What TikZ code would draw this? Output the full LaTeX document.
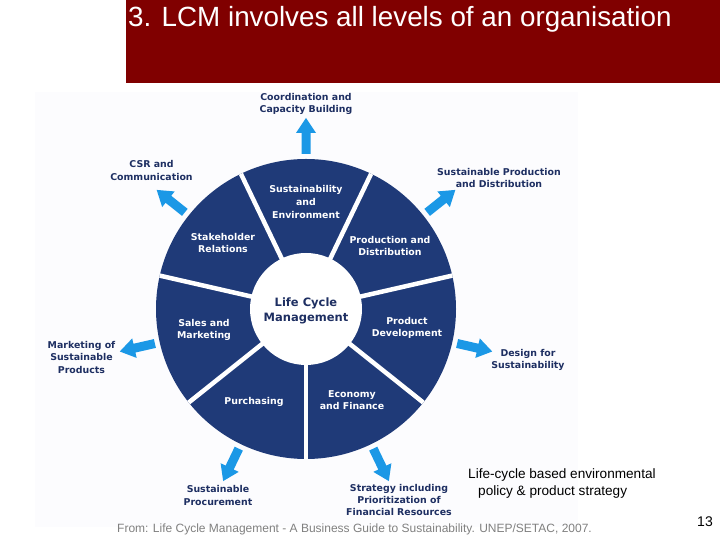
\documentclass[tikz,border=0pt]{standalone}
\usepackage{fontspec}
\setmainfont{Liberation Sans}
\newfontfamily\vfont{DejaVu Sans}
\definecolor{titlered}{HTML}{800000}
\definecolor{segnavy}{HTML}{1F3A78}
\definecolor{txtnavy}{HTML}{1E2F62}
\definecolor{arrblue}{HTML}{1B98E6}
\definecolor{bgfaint}{HTML}{FCFCFE}
\definecolor{srcgrey}{HTML}{808080}
\begin{document}
\begin{tikzpicture}[x=1pt,y=1pt,
  seglab/.style={text=white, font=\vfont\bfseries\fontsize{9.4}{12.6}\selectfont, align=center, inner sep=0pt},
  outlab/.style={text=txtnavy, font=\vfont\bfseries\fontsize{9.4}{12.4}\selectfont, align=center, inner sep=0pt},
  centlab/.style={text=txtnavy, font=\vfont\bfseries\fontsize{11.5}{15.5}\selectfont, align=center, inner sep=0pt},
  titletext/.style={text=white, font=\fontsize{27.8}{30}\selectfont, inner sep=0pt, anchor=base west},
  gapline/.style={white, line width=4.5pt},
  blockarrow/.style={fill=arrblue}
]
\useasboundingbox (0,0) rectangle (720,540);
\fill[white] (0,0) rectangle (720,540);
\fill[bgfaint] (35,13) rectangle (578,448);
\fill[titlered] (126,457) rectangle (720,540);
\node[titletext] (title) at (128,513) {3. LCM involves all levels of an organisation};

% wheel
\coordinate (c) at (306,231);
\fill[segnavy] (c) circle (150);
\begin{scope}
  \clip (c) circle (150);
  \foreach \a in {64.29,12.86,-38.57,-90,-141.43,167.14,115.71}
    \draw[gapline] (c) -- ++(\a:160);
\end{scope}
\fill[white] (c) circle (56);

% arrows
\foreach \a in {90,38.57,-12.86,-64.29,-115.71,192.86,141.43}
  \fill[blockarrow, shift={(c)}, rotate=\a]
    (155,-4.5) -- (176,-4.5) -- (176,-10) -- (191,0) -- (176,10) -- (176,4.5) -- (155,4.5) -- cycle;

% segment labels
\node[seglab] (sustain) at (306,338) {Sustainability\\and\\Environment};
\node[seglab] (prod) at (390,294) {Production and\\Distribution};
\node[seglab] (pdev) at (407,212) {Product\\Development};
\node[seglab] (econ) at (352,140) {Economy\\and Finance};
\node[seglab] (purch) at (254,138) {Purchasing};
\node[seglab] (sales) at (204,210) {Sales and\\Marketing};
\node[seglab] (stake) at (223,297) {Stakeholder\\Relations};
\node[centlab] (lcm) at (306,229) {Life Cycle\\Management};

% outer labels
\node[outlab] (coord) at (306,436) {Coordination and\\Capacity Building};
\node[outlab] (csr) at (151.5,369.5) {CSR and\\Communication};
\node[outlab] (spd) at (499,362) {Sustainable Production\\and Distribution};
\node[outlab] (design) at (528,180) {Design for\\Sustainability};
\node[outlab] (strat) at (399,40) {Strategy including\\Prioritization of\\Financial Resources};
\node[outlab] (proc) at (218,44.5) {Sustainable\\Procurement};
\node[outlab] (mkt) at (81.5,182.5) {Marketing of\\Sustainable\\Products};

% other text
\node[anchor=base west, inner sep=0pt, align=left, font=\fontsize{13.6}{17}\selectfont] (policy) at (468,44)
  {Life-cycle based environmental\\\hspace*{10pt}policy \& product strategy};
\node[anchor=base west, inner sep=0pt, text=srcgrey, font=\fontsize{12}{14}\selectfont] (source) at (117,7)
  {From: Life Cycle Management - A Business Guide to Sustainability. UNEP/SETAC, 2007.};
\node[anchor=base east, inner sep=0pt, font=\fontsize{14}{16}\selectfont] (pagenum) at (713,13) {13};
\end{tikzpicture}
\end{document}
